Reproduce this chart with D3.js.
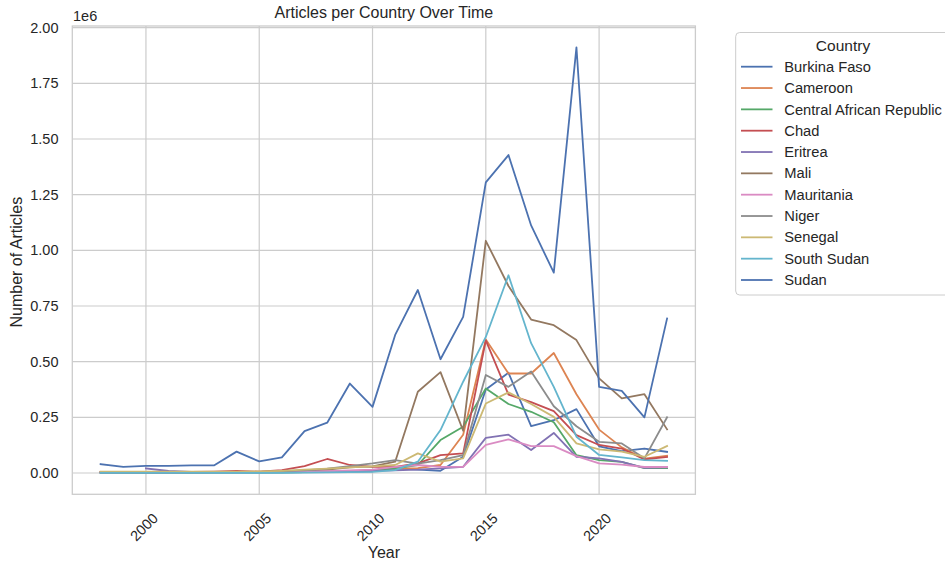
<!DOCTYPE html>
<html>
<head>
<meta charset="utf-8">
<script src="https://cdn.jsdelivr.net/npm/d3@7"></script>
<style>
  html, body { margin: 0; padding: 0; background: #fff; }
  svg { display: block; font-family: "Liberation Sans", Arial, sans-serif; }
</style>
</head>
<body>
<svg id="chart" width="945" height="565"></svg>
<script>
const years = d3.range(1998, 2024);
const countries = ["Burkina Faso", "Cameroon", "Central African Republic", "Chad", "Eritrea", "Mali",
  "Mauritania", "Niger", "Senegal", "South Sudan", "Sudan"];
const colors = ["#4c72b0", "#dd8452", "#55a868", "#c44e52", "#8172b3", "#937860",
  "#da8bc3", "#8c8c8c", "#ccb974", "#64b5cd", "#4c72b0"];

// values per year 1998..2023 (number of articles)
const burkinaFaso = [1000, 1000, 1000, 1000, 1000, 2000, 2000, 2000, 3000, 4000, 5000, 6000, 8000,
  21000, 15000, 10000, 73000, 375000, 450000, 211000, 237000, 287000, 120000, 98000, 110000, 95000];
const cameroon = [4000, 4000, 4000, 4000, 4000, 4000, 5000, 5000, 6000, 7000, 8000, 10000, 12000,
  20000, 22000, 36000, 172000, 600000, 447000, 447000, 539000, 354000, 195000, 115000, 64000, 78000];
const centralAfricanRepublic = [2000, 2000, 2000, 2000, 2000, 2000, 3000, 3000, 3000, 4000, 5000, 7000, 10000,
  21000, 36000, 148000, 208000, 380000, 310000, 275000, 228000, 80000, 58000, 50000, 22000, 22000];
const chad = [5000, 5000, 4000, 4000, 5000, 6000, 9000, 6000, 13000, 31000, 63000, 36000, 28000,
  28000, 43000, 80000, 88000, 596000, 352000, 318000, 278000, 170000, 126000, 110000, 61000, 72000];
const eritrea = [null, null, 21000, 9000, 5000, 4000, 4000, 4000, 4000, 5000, 6000, 8000, 10000,
  12000, 15000, 21000, 28000, 158000, 172000, 103000, 180000, 73000, 66000, 50000, 23000, 25000];
const mali = [3000, 3000, 3000, 3000, 3000, 4000, 4000, 5000, 6000, 9000, 15000, 25000, 30000,
  51000, 365000, 453000, 190000, 1043000, 840000, 689000, 664000, 597000, 425000, 335000, 354000, 196000];
const mauritania = [3000, 3000, 3000, 3000, 3000, 3000, 4000, 4000, 5000, 6000, 8000, 12000, 15000,
  28000, 36000, 28000, 28000, 126000, 151000, 121000, 121000, 76000, 43000, 38000, 27000, 27000];
const niger = [3000, 3000, 3000, 3000, 3000, 4000, 4000, 5000, 8000, 12000, 20000, 31000, 43000,
  58000, 42000, 58000, 80000, 440000, 387000, 456000, 300000, 210000, 140000, 133000, 66000, 250000];
const senegal = [6000, 6000, 6000, 6000, 6000, 6000, 6000, 7000, 10000, 15000, 20000, 25000, 30000,
  36000, 88000, 51000, 66000, 312000, 362000, 310000, 252000, 133000, 106000, 96000, 73000, 121000];
const southSudan = [1000, 1000, 1000, 1000, 1000, 1000, 1000, 1000, 1000, 2000, 3000, 4000, 5000,
  13000, 51000, 193000, 410000, 611000, 888000, 583000, 387000, 163000, 81000, 70000, 58000, 55000];
const sudan = [40000, 28000, 32000, 32000, 34000, 34000, 96000, 52000, 70000, 188000, 226000, 402000, 297000,
  620000, 822000, 511000, 701000, 1305000, 1428000, 1112000, 900000, 1912000, 387000, 369000, 250000, 694000];

const seriesValues = [burkinaFaso, cameroon, centralAfricanRepublic, chad, eritrea, mali,
  mauritania, niger, senegal, southSudan, sudan];
const yTicks = [0, 250000, 500000, 750000, 1000000, 1250000, 1500000, 1750000, 2000000];
const xTicks = [2000, 2005, 2010, 2015, 2020];

(function draw() {
  const svg = d3.select("#chart");
  const pL = 72.3, pR = 695.4, pT = 26, pB = 494.3;

  const allVals = seriesValues.flat().filter(v => v != null);
  const xMin = d3.min(years), xMax = d3.max(years);
  const xPad = (xMax - xMin) * 0.05;
  const x = d3.scaleLinear().domain([xMin - xPad, xMax + xPad]).range([pL, pR]);
  const yMin = 0, yMax = d3.max(allVals);
  const yPad = (yMax - yMin) * 0.05;
  const y = d3.scaleLinear().domain([yMin - yPad, yMax + yPad]).range([pB, pT]);

  // grid
  const g = svg.append("g");
  g.selectAll("line.hg").data(yTicks).join("line")
    .attr("x1", pL).attr("x2", pR)
    .attr("y1", d => y(d)).attr("y2", d => y(d))
    .attr("stroke", "#cccccc").attr("stroke-width", 1.2);
  g.selectAll("line.vg").data(xTicks).join("line")
    .attr("y1", pT).attr("y2", pB)
    .attr("x1", d => x(d)).attr("x2", d => x(d))
    .attr("stroke", "#cccccc").attr("stroke-width", 1.2);

  // lines
  const line = d3.line()
    .defined(d => d.v != null)
    .x(d => x(d.year)).y(d => y(d.v));
  seriesValues.forEach((vals, i) => {
    const pts = years.map((yr, j) => ({ year: yr, v: vals[j] }));
    svg.append("path").datum(pts)
      .attr("d", line)
      .attr("fill", "none")
      .attr("stroke", colors[i])
      .attr("stroke-width", 1.8)
      .attr("stroke-linejoin", "round")
      .attr("stroke-linecap", "square");
  });

  // spines
  svg.append("rect").attr("x", pL).attr("y", pT)
    .attr("width", pR - pL).attr("height", pB - pT)
    .attr("fill", "none").attr("stroke", "#cccccc").attr("stroke-width", 1.3);

  // y tick labels
  svg.selectAll("text.yt").data(yTicks).join("text")
    .attr("x", 58.5).attr("y", d => y(d)).attr("dy", "0.35em")
    .attr("text-anchor", "end").attr("font-size", 14.5).attr("fill", "#262626")
    .text(d => (d / 1e6).toFixed(2));
  svg.append("text").attr("x", 73).attr("y", 21).attr("font-size", 14.5).attr("fill", "#262626").text("1e6");

  // x tick labels
  svg.selectAll("text.xt").data(xTicks).join("text")
    .attr("transform", d => `translate(${x(d) - 2},${527}) rotate(-45)`)
    .attr("dy", "0.35em")
    .attr("text-anchor", "middle").attr("font-size", 14.5).attr("fill", "#262626")
    .text(d => d);

  // axis labels & title
  svg.append("text").attr("x", (pL + pR) / 2).attr("y", 558)
    .attr("text-anchor", "middle").attr("font-size", 16).attr("fill", "#262626").text("Year");
  svg.append("text").attr("transform", `translate(22,${(pT + pB) / 2 + 2}) rotate(-90)`)
    .attr("text-anchor", "middle").attr("font-size", 16).attr("fill", "#262626").text("Number of Articles");
  svg.append("text").attr("x", (pL + pR) / 2).attr("y", 18)
    .attr("text-anchor", "middle").attr("font-size", 16).attr("fill", "#262626").text("Articles per Country Over Time");

  // legend
  const lg = svg.append("g");
  lg.append("rect").attr("x", 735.7).attr("y", 32.5).attr("width", 230).attr("height", 262.5)
    .attr("rx", 4).attr("fill", "#fff").attr("fill-opacity", 0.8)
    .attr("stroke", "#cccccc").attr("stroke-width", 1);
  lg.append("text").attr("x", 843).attr("y", 51).attr("text-anchor", "middle")
    .attr("font-size", 15.5).attr("fill", "#262626").text("Country");
  const rowY = i => 66.7 + i * 21.33;
  countries.forEach((c, i) => {
    lg.append("line").attr("x1", 741).attr("x2", 772.5)
      .attr("y1", rowY(i)).attr("y2", rowY(i))
      .attr("stroke", colors[i]).attr("stroke-width", 1.8);
    lg.append("text").attr("x", 784.3).attr("y", rowY(i)).attr("dy", "0.35em")
      .attr("font-size", 14.7).attr("fill", "#262626").text(c);
  });
})();
</script>
</body>
</html>
